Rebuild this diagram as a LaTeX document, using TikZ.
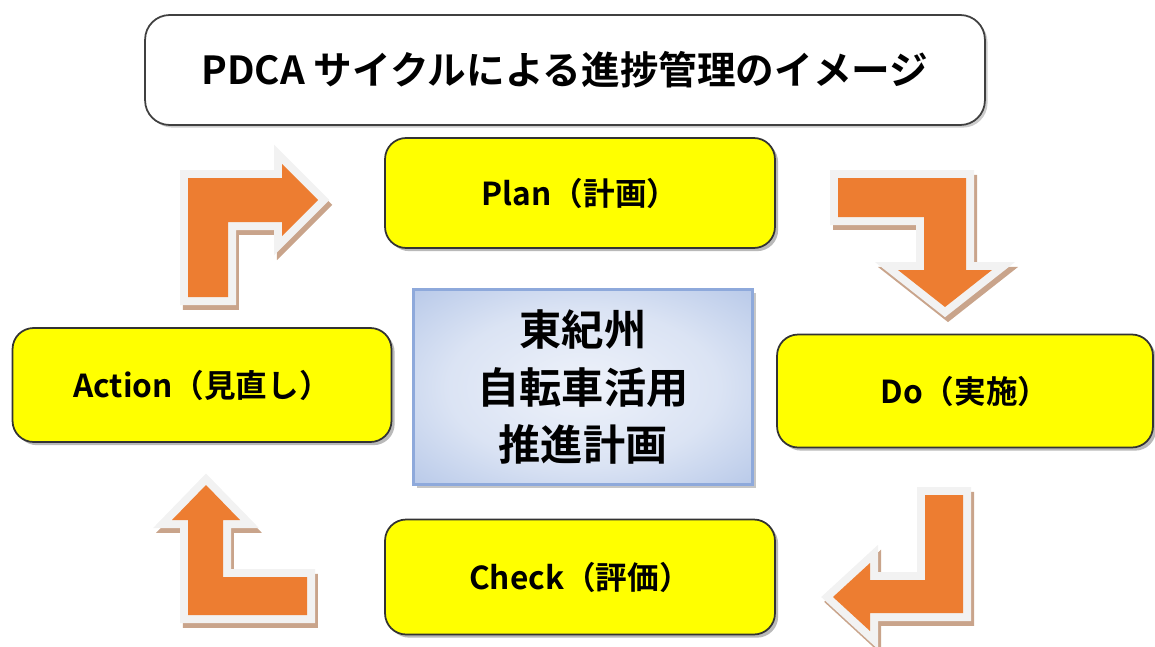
\documentclass[tikz,border=0pt]{standalone}
\usepackage{fontspec}
\setmainfont{Noto Sans CJK JP}[BoldFont={Noto Sans CJK JP Bold}]
\usepackage{tikz,xcolor}
\usetikzlibrary{shadows}
\definecolor{boxyellow}{HTML}{FFFF00}
\definecolor{turnorange}{HTML}{ED7D31}
\definecolor{turnrim}{HTML}{F2F2F2}
\definecolor{turnshade}{HTML}{C9A48B}
\definecolor{coreedge}{HTML}{8EA9DB}
\definecolor{coremid}{HTML}{EEF2FA}
\pgfdeclareradialshading{corefade}{\pgfpoint{0bp}{0bp}}{color(0bp)=(coremid);
    color(20bp)=(coremid!80!coreedge); color(55bp)=(coreedge)}
\tikzstyle{phase} = [draw=black!80, line width=1pt, fill=boxyellow, rounded corners=12pt,
    font=\bfseries\fontsize{18}{20}\selectfont,
    drop shadow={shadow xshift=1.8pt, shadow yshift=-1.8pt, opacity=0.55}]
\tikzstyle{heading} = [draw=black!75, line width=1pt, fill=white, rounded corners=14pt,
    minimum width=16.8cm, minimum height=2.2cm, font=\bfseries\fontsize{22}{24}\selectfont,
    drop shadow={shadow xshift=1.5pt, shadow yshift=-1.5pt, opacity=0.4}]
\tikzstyle{core} = [draw=coreedge, line width=1.8pt, shading=corefade,
    minimum width=6.78cm, minimum height=3.9cm, align=center,
    font=\bfseries\fontsize{24}{33}\selectfont,
    drop shadow={shadow xshift=2pt, shadow yshift=-2pt, opacity=0.45}]
\tikzstyle{turn} = [fill=turnorange, line join=miter,
    drop shadow={fill=turnshade, draw=turnshade, line width=0.32cm, shadow xshift=1.7pt, shadow yshift=-2.8pt, opacity=1},
    preaction={draw=turnrim, line width=0.32cm}]

\begin{document}
\begin{tikzpicture}[x=0.02cm, y=-0.02cm]
\useasboundingbox (0,0) rectangle (1155,646);
% boxes
\node[heading] (title) at (565,70) {PDCA サイクルによる進捗管理のイメージ};
\node[phase, minimum width=7.8cm, minimum height=2.2cm] (plan) at (580,193) {Plan（計画）};
\node[phase, minimum width=7.52cm, minimum height=2.26cm] (do) at (965,391) {Do（実施）};
\node[phase, minimum width=7.8cm, minimum height=2.3cm] (check) at (580,577) {Check（評価）};
\node[phase, minimum width=7.58cm, minimum height=2.28cm] (act) at (202,385) {Action（見直し）};
\node[core] (plan2) at (583,387) {東紀州\\自転車活用\\推進計画};
% turning arrows
\path[turn] (188,297) -- (188,178) -- (282,178) -- (282,164) -- (318,200) -- (282,236)
    -- (282,222) -- (228,222) -- (228,297) -- cycle;
\path[turn] (838,178) -- (966,178) -- (966,270) -- (992,270) -- (945,307) -- (898,270)
    -- (924,270) -- (924,217) -- (838,217) -- cycle;
\path[turn] (925,495) -- (963,495) -- (963,613) -- (870,613) -- (870,631) -- (833,597)
    -- (870,563) -- (870,580) -- (925,580) -- cycle;
\path[turn] (307,577) -- (307,615) -- (188,615) -- (188,520) -- (172,520) -- (206,485)
    -- (240,520) -- (223,520) -- (223,577) -- cycle;
\end{tikzpicture}
\end{document}
